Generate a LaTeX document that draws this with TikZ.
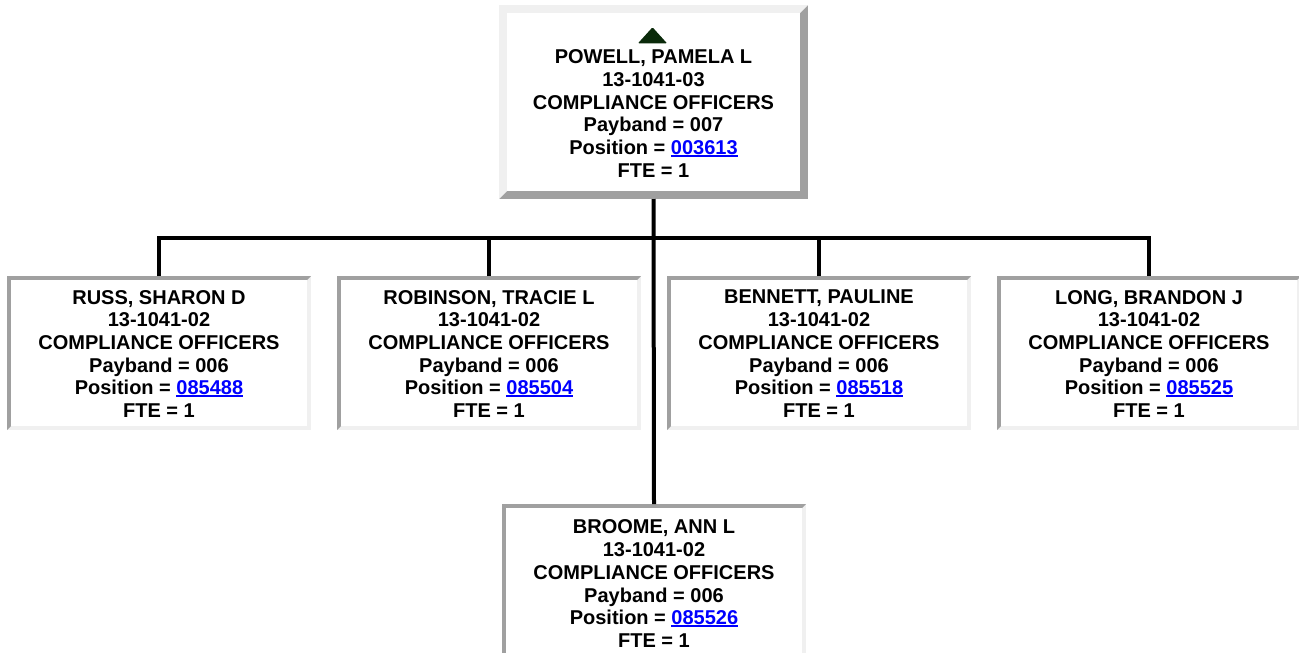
\documentclass[tikz,border=0pt]{standalone}
\usepackage{fontspec}
\setmainfont{Liberation Sans}
\definecolor{bdark}{HTML}{A0A0A0}
\definecolor{blight}{HTML}{F0F0F0}
\definecolor{lnkblue}{HTML}{0000FF}
\definecolor{tricol}{HTML}{0A2A0A}
\newcommand\poslink[1]{\textcolor{lnkblue}{\setbox0\hbox{#1}\rlap{\rule[-2.6pt]{\wd0}{2pt}}\box0}}
\tikzset{
  outsetbox/.style={minimum width=309pt, minimum height=194pt, inner sep=0pt, outer sep=0pt,
    path picture={
      \fill[bdark] (path picture bounding box.south west) rectangle (path picture bounding box.north east);
      \fill[blight] (path picture bounding box.south west) -- (path picture bounding box.north west)
        -- (path picture bounding box.north east) -- ([shift={(-8pt,-8pt)}]path picture bounding box.north east)
        -- ([shift={(8pt,-8pt)}]path picture bounding box.north west) -- ([shift={(8pt,8pt)}]path picture bounding box.south west) -- cycle;
      \fill[white] ([shift={(8pt,8pt)}]path picture bounding box.south west) rectangle ([shift={(-8pt,-8pt)}]path picture bounding box.north east);
    }},
  insetbox/.style={minimum width=304pt, minimum height=154pt, inner sep=0pt, outer sep=0pt,
    path picture={
      \fill[blight] (path picture bounding box.south west) rectangle (path picture bounding box.north east);
      \fill[bdark] (path picture bounding box.south west) -- (path picture bounding box.north west)
        -- (path picture bounding box.north east) -- ([shift={(-4pt,-4pt)}]path picture bounding box.north east)
        -- ([shift={(4pt,-4pt)}]path picture bounding box.north west) -- ([shift={(4pt,4pt)}]path picture bounding box.south west) -- cycle;
      \fill[white] ([shift={(4pt,4pt)}]path picture bounding box.south west) rectangle ([shift={(-4pt,-4pt)}]path picture bounding box.north east);
    }},
  txt/.style={align=center, inner sep=0pt, font=\fontsize{20}{22.7}\selectfont\bfseries},
  conn/.style={line width=4pt, black}
}
\begin{document}
\begin{tikzpicture}[x=1pt, y=-1pt]
\useasboundingbox (0,0) rectangle (1299,653);
% boxes
\node[outsetbox] (top) at (653.5,102) {};
\node[insetbox] (c1) at (159,353) {};
\node[insetbox] (c2) at (489,353) {};
\node[insetbox] (c3) at (819,353) {};
\node[insetbox] (c4) at (1149,353) {};
\node[insetbox] (bot) at (654,581) {};
% triangle
\fill[tricol, rounded corners=1pt] (638,43.3) -- (652.5,27.3) -- (667,43.3) -- cycle;
% texts
\node[txt] (t0) at (653.5,113.4) {POWELL, PAMELA L\\13-1041-03\\COMPLIANCE OFFICERS\\Payband = 007\\Position = \poslink{003613}\\FTE = 1};
\node[txt] (t1) at (159,353.8) {RUSS, SHARON D\\13-1041-02\\COMPLIANCE OFFICERS\\Payband = 006\\Position = \poslink{085488}\\FTE = 1};
\node[txt] (t2) at (489,353.8) {ROBINSON, TRACIE L\\13-1041-02\\COMPLIANCE OFFICERS\\Payband = 006\\Position = \poslink{085504}\\FTE = 1};
\node[txt] (t3) at (819,353.8) {BENNETT, PAULINE\\13-1041-02\\COMPLIANCE OFFICERS\\Payband = 006\\Position = \poslink{085518}\\FTE = 1};
\node[txt] (t4) at (1149,353.8) {LONG, BRANDON J\\13-1041-02\\COMPLIANCE OFFICERS\\Payband = 006\\Position = \poslink{085525}\\FTE = 1};
\node[txt] (t5) at (654,583.7) {BROOME, ANN L\\13-1041-02\\COMPLIANCE OFFICERS\\Payband = 006\\Position = \poslink{085526}\\FTE = 1};
% connectors
\coordinate (bar) at (654,238);
\draw[conn] (top.south) -- (bot.north);
\draw[conn] (c1.north) -- (c1.north |- bar) -- (c4.north |- bar) -- (c4.north);
\draw[conn] (c2.north) -- (c2.north |- bar);
\draw[conn] (c3.north) -- (c3.north |- bar);
\end{tikzpicture}
\end{document}
